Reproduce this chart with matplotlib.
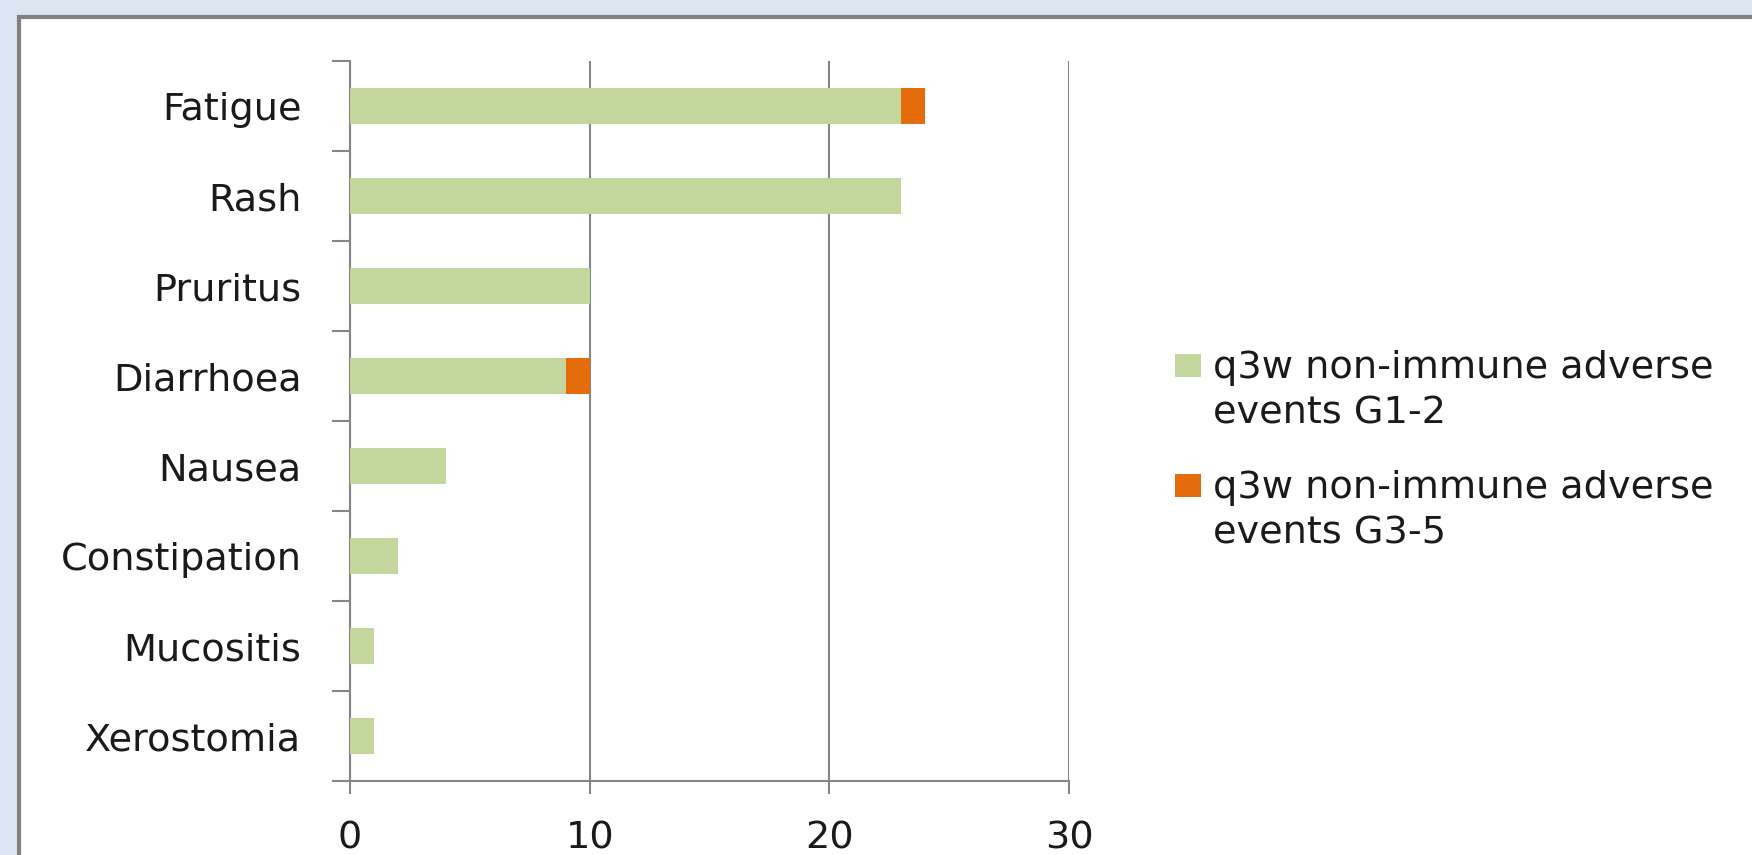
import numpy as np
import matplotlib.pyplot as plt
from matplotlib.patches import Rectangle
from matplotlib.ticker import FixedLocator

categories = ["Fatigue", "Rash", "Pruritus", "Diarrhoea", "Nausea",
              "Constipation", "Mucositis", "Xerostomia"]
g12 = [23, 23, 10, 9, 4, 2, 1, 1]
g35 = [1, 0, 0, 1, 0, 0, 0, 0]
labels = ["q3w non-immune adverse\nevents G1-2",
          "q3w non-immune adverse\nevents G3-5"]
colors = ['#c3d69b', '#e46c0a']
xticks = [0, 10, 20, 30]

plt.rcParams['font.family'] = ['DejaVu Sans']
W, H = 1752, 855
fig = plt.figure(figsize=(W / 100, H / 100), dpi=100, facecolor='#dce6f2')
fig.patches.append(Rectangle((19 / W, -0.2), 1.2, 1.2 - 17 / H,
                             transform=fig.transFigure, facecolor='white',
                             edgecolor='#808080', lw=3, zorder=-10))

grid_c = '#868686'
txt_c = '#1a1a1a'
fs = 27.5
ax = fig.add_axes([350 / W, 1 - 781 / H, (1069 - 350) / W, (781 - 61) / H])
ax.set_facecolor('none')
y = np.arange(len(categories))
ax.barh(y, g12, height=0.4, color=colors[0], zorder=3)
ax.barh(y, g35, left=g12, height=0.4, color=colors[1], zorder=3)

ax.set_xlim(0, 30)
ax.set_ylim(len(categories) - 0.5, -0.5)
ax.set_xticks(xticks)
ax.xaxis.grid(True, color=grid_c, lw=1.5)
ax.set_axisbelow(True)
for s in ['top', 'right']:
    ax.spines[s].set_visible(False)
for s in ['left', 'bottom']:
    ax.spines[s].set_color(grid_c)
    ax.spines[s].set_linewidth(1.5)

ax.yaxis.set_major_locator(FixedLocator(np.arange(len(categories) + 1) - 0.5))
ax.yaxis.set_major_formatter(plt.NullFormatter())
ax.yaxis.set_minor_locator(FixedLocator(y))
ax.set_yticklabels(categories, minor=True)
ax.tick_params(axis='y', which='major', length=13, width=1.5, color=grid_c)
ax.tick_params(axis='y', which='minor', length=0, pad=35, labelsize=fs, labelcolor=txt_c)
ax.tick_params(axis='x', length=9.5, width=1.5, color=grid_c, pad=19, labelsize=fs,
               labelcolor=txt_c)

# legend drawn by hand: square sits beside the first line of each label
for i, (lab, c) in enumerate(zip(labels, colors)):
    base = 378 + i * 120
    fig.patches.append(Rectangle((1175 / W, 1 - (base - 1) / H), 26 / W, 23 / H,
                                 transform=fig.transFigure, facecolor=c, lw=0))
    for j, line in enumerate(lab.split('\n')):
        fig.text(1213 / W, 1 - (base + 45 * j) / H, line, fontsize=fs, color=txt_c,
                 va='baseline', ha='left', transform=fig.transFigure)

fig.savefig('out.png', dpi=100, facecolor=fig.get_facecolor())
